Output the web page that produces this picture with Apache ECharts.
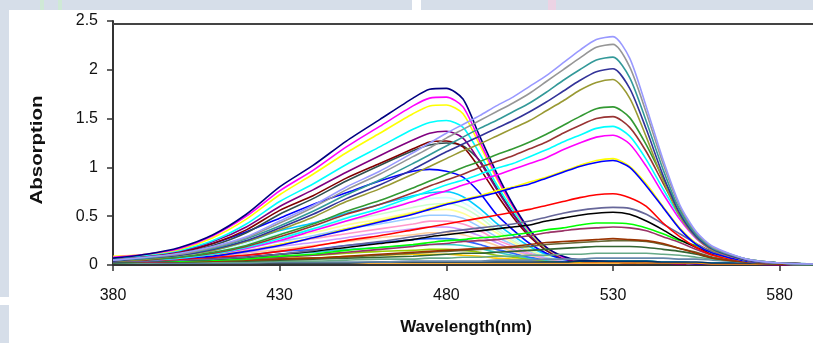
<!DOCTYPE html>
<html><head><meta charset="utf-8">
<script src="https://cdn.jsdelivr.net/npm/echarts@6/dist/echarts.min.js"></script>
<style>html,body{margin:0;padding:0;background:#fff;}#c{width:813px;height:343px;}</style>
</head><body><div id="c"></div>
<script>
// wavelength grid (nm)
const wavelengths = [380,390,400,410,420,430,440,450,460,470,475,480,485,490,495,500,505,510,515,520,525,530,535,540,545,550,555,560,570,580,590];
const xTicks = [380,430,480,530,580];
const yTicks = [0,0.5,1,1.5,2,2.5];

// 476 nm band
const a476Navy    = [.07,.11,.18,.31,.52,.80,1.02,1.27,1.49,1.71,1.80,1.81,1.70,1.32,.95,.62,.36,.18,.09,.05,.04,.03,.03,.02,.02,.02,.01,.01,.01,.01,0];
const a476Magenta = [.08,.11,.17,.30,.50,.76,.97,1.21,1.42,1.63,1.71,1.72,1.62,1.27,.91,.60,.35,.18,.08,.05,.04,.03,.03,.02,.02,.02,.01,.01,.01,.01,0];
const a476Yellow  = [.09,.11,.16,.28,.47,.72,.93,1.15,1.35,1.55,1.63,1.64,1.55,1.23,.89,.59,.34,.17,.08,.05,.04,.03,.03,.02,.02,.02,.01,.01,.01,.01,0];
const a476Cyan    = [.07,.10,.15,.25,.42,.65,.83,1.03,1.21,1.39,1.46,1.48,1.41,1.14,.83,.56,.33,.17,.08,.05,.04,.03,.03,.02,.02,.02,.01,.01,.01,.01,0];
const a476Purple  = [.07,.10,.14,.24,.39,.60,.77,.95,1.12,1.28,1.35,1.37,1.30,1.06,.78,.52,.31,.16,.07,.04,.03,.03,.02,.02,.02,.01,.01,.01,.01,0,0];
const a476Maroon  = [.06,.09,.13,.22,.36,.56,.71,.89,1.04,1.19,1.26,1.27,1.21,.99,.73,.49,.29,.15,.07,.04,.03,.03,.02,.02,.02,.01,.01,.01,.01,0,0];
const a476Dark    = [.06,.09,.12,.20,.33,.52,.68,.86,1.02,1.17,1.23,1.25,1.22,1.07,.80,.53,.31,.15,.07,.04,.03,.03,.02,.02,.02,.01,.01,.01,.01,0,0];
const a476Blue    = [.06,.09,.13,.22,.34,.48,.62,.74,.86,.96,.98,.96,.90,.74,.52,.36,.22,.12,.06,.04,.03,.03,.02,.02,.02,.01,.01,.01,.01,0,0];
const a476Sky     = [.06,.07,.10,.15,.24,.35,.43,.53,.62,.71,.74,.75,.70,.58,.43,.30,.19,.11,.07,.05,.04,.04,.04,.04,.03,.03,.02,.02,.02,.02,.01];
const a476Turq    = [.06,.07,.10,.14,.22,.32,.40,.49,.57,.65,.68,.69,.64,.53,.39,.27,.18,.10,.06,.05,.04,.04,.04,.04,.03,.03,.02,.02,.02,.02,.01];
const a476LGreen  = [.05,.07,.09,.13,.20,.29,.37,.45,.52,.59,.62,.63,.59,.49,.36,.25,.16,.10,.06,.05,.04,.04,.04,.04,.03,.03,.02,.02,.02,.02,.01];
const a476LYellow = [.05,.06,.08,.12,.19,.27,.33,.41,.47,.54,.56,.57,.53,.44,.33,.23,.15,.09,.06,.05,.04,.04,.04,.04,.03,.03,.02,.02,.02,.02,.01];
const a476PBlue   = [.05,.06,.08,.11,.17,.24,.30,.37,.42,.48,.51,.51,.48,.39,.29,.21,.14,.08,.05,.04,.04,.04,.04,.03,.03,.03,.02,.02,.02,.02,.01];
const a476Rose    = [.05,.06,.07,.10,.15,.21,.27,.32,.37,.42,.45,.45,.42,.35,.26,.19,.12,.08,.05,.04,.04,.04,.04,.03,.03,.03,.02,.02,.02,.02,.01];
const a476Lav     = [.04,.05,.07,.09,.13,.19,.23,.28,.33,.37,.39,.39,.36,.30,.23,.16,.11,.07,.05,.04,.04,.04,.04,.03,.03,.03,.02,.02,.02,.02,.01];
const a476Tan     = [.04,.05,.06,.08,.12,.16,.20,.24,.28,.31,.33,.33,.31,.26,.20,.14,.10,.06,.05,.04,.04,.03,.03,.03,.03,.02,.02,.02,.02,.01,.01];
const a476LBlue   = [.04,.04,.05,.07,.10,.14,.16,.20,.23,.26,.27,.27,.25,.21,.16,.12,.08,.06,.04,.04,.03,.03,.03,.03,.03,.02,.02,.02,.02,.01,.01];
const a476Aqua    = [.04,.04,.05,.06,.08,.11,.13,.16,.18,.20,.21,.21,.20,.17,.13,.10,.07,.05,.04,.04,.03,.03,.03,.03,.03,.02,.02,.02,.02,.01,.01];
const a476Lime    = [.03,.04,.04,.05,.07,.09,.10,.12,.14,.15,.16,.16,.15,.13,.10,.08,.06,.04,.04,.03,.03,.03,.03,.03,.02,.02,.02,.02,.01,.01,.01];
const a476Gold    = [.03,.03,.04,.04,.05,.07,.07,.09,.10,.11,.11,.11,.10,.09,.07,.06,.05,.04,.03,.03,.03,.03,.03,.03,.02,.02,.02,.02,.01,.01,.01];

// near-zero traces
const baseSteel  = [.02,.02,.02,.02,.02,.03,.03,.03,.03,.04,.04,.04,.04,.04,.05,.05,.05,.06,.06,.06,.07,.07,.07,.07,.07,.06,.06,.05,.03,.01,0];
const baseOrange = [.03,.03,.03,.02,.02,.02,.02,.02,.02,.02,.02,.02,.02,.02,.02,.02,.02,.02,.02,.02,.02,.02,.02,.02,.02,.02,.02,.01,.01,.01,0];
const baseNavy   = [.02,.02,.02,.02,.02,.02,.02,.02,.03,.03,.03,.03,.03,.03,.03,.03,.03,.03,.03,.04,.04,.04,.04,.04,.03,.03,.03,.02,.02,.01,0];

// 528 nm band
const b528Sea     = [.02,.02,.03,.03,.03,.04,.04,.05,.06,.06,.07,.07,.08,.08,.09,.09,.10,.10,.11,.11,.12,.12,.12,.12,.11,.10,.08,.06,.03,.01,0];
const b528DGreen  = [.02,.03,.03,.04,.04,.05,.06,.07,.08,.09,.10,.11,.12,.12,.13,.14,.15,.16,.17,.18,.19,.19,.19,.18,.16,.14,.11,.07,.03,.01,0];
const b528DOlive  = [.03,.03,.03,.04,.05,.06,.07,.08,.10,.12,.13,.14,.15,.16,.17,.18,.19,.21,.22,.23,.24,.25,.25,.24,.21,.17,.13,.08,.03,.01,.01];
const b528Brown2  = [.03,.03,.04,.04,.05,.06,.07,.09,.11,.13,.14,.15,.16,.17,.18,.19,.21,.23,.24,.25,.26,.27,.26,.25,.22,.17,.12,.07,.03,.01,.01];
const b528Plum    = [.03,.03,.04,.05,.06,.08,.10,.13,.16,.19,.21,.22,.24,.25,.26,.28,.30,.33,.35,.37,.38,.39,.38,.35,.29,.23,.16,.10,.04,.02,.01];
const b528Lime    = [.03,.04,.04,.05,.06,.09,.11,.15,.18,.21,.23,.25,.26,.28,.29,.31,.33,.36,.38,.41,.43,.43,.42,.38,.32,.25,.20,.14,.05,.02,.01];
const b528Black   = [.03,.04,.05,.06,.08,.11,.14,.18,.22,.26,.29,.31,.33,.35,.37,.39,.41,.45,.48,.51,.53,.54,.52,.45,.36,.26,.18,.11,.04,.02,.01];
const b528Slate   = [.03,.04,.05,.06,.08,.11,.15,.20,.24,.29,.31,.34,.36,.38,.40,.42,.45,.49,.53,.56,.58,.59,.58,.52,.42,.32,.22,.13,.04,.02,.01];
const b528Red     = [.04,.05,.06,.08,.10,.14,.19,.25,.30,.36,.39,.42,.45,.48,.51,.54,.57,.61,.65,.69,.72,.73,.69,.60,.43,.29,.18,.10,.04,.02,.01];
const b528Blue    = [.04,.05,.07,.09,.14,.20,.28,.36,.44,.52,.57,.62,.66,.70,.74,.79,.83,.89,.95,1.01,1.05,1.07,1.00,.81,.59,.37,.21,.12,.04,.02,.01];
const b528Yellow  = [.05,.06,.07,.10,.14,.21,.28,.37,.45,.53,.58,.63,.67,.71,.76,.80,.85,.90,.96,1.02,1.07,1.09,1.01,.83,.60,.38,.22,.12,.04,.02,.01];
const b528Magenta = [.04,.05,.07,.11,.17,.25,.35,.45,.55,.65,.71,.76,.82,.87,.92,.98,1.04,1.10,1.18,1.25,1.31,1.33,1.24,1.01,.73,.47,.27,.15,.05,.02,.01];
const b528Cyan    = [.04,.05,.07,.11,.18,.27,.37,.48,.58,.70,.76,.82,.87,.93,.99,1.04,1.11,1.18,1.26,1.33,1.40,1.42,1.32,1.08,.78,.50,.28,.16,.05,.02,.01];
const b528Brown   = [.04,.05,.08,.12,.19,.29,.40,.52,.62,.74,.81,.87,.93,1.00,1.06,1.12,1.19,1.26,1.35,1.43,1.50,1.52,1.41,1.16,.84,.53,.30,.17,.05,.02,.01];
const b528Green   = [.04,.06,.08,.13,.20,.31,.42,.55,.66,.79,.86,.93,1.00,1.06,1.13,1.19,1.26,1.34,1.43,1.52,1.60,1.62,1.51,1.23,.89,.57,.32,.18,.06,.02,.01];
const b528Olive   = [.04,.06,.10,.15,.24,.36,.49,.65,.78,.93,1.01,1.09,1.17,1.24,1.32,1.40,1.48,1.58,1.68,1.79,1.87,1.90,1.71,1.31,.87,.50,.28,.15,.05,.02,.01];
const b528Indigo  = [.04,.07,.10,.16,.25,.38,.52,.68,.82,.98,1.07,1.16,1.24,1.32,1.40,1.48,1.57,1.67,1.78,1.89,1.98,2.01,1.81,1.39,.92,.53,.29,.16,.05,.02,.01];
const b528Teal    = [.05,.07,.11,.17,.27,.40,.55,.72,.87,1.04,1.13,1.22,1.31,1.40,1.48,1.57,1.66,1.77,1.89,2.00,2.10,2.13,1.92,1.47,.98,.56,.31,.17,.06,.02,.01];
const b528Gray    = [.05,.08,.11,.18,.28,.43,.59,.77,.93,1.11,1.20,1.30,1.39,1.48,1.57,1.66,1.76,1.88,2.00,2.12,2.23,2.26,2.03,1.56,1.04,.60,.33,.18,.06,.02,.01];
const b528Lavender= [.05,.08,.12,.19,.29,.45,.61,.80,.96,1.15,1.25,1.35,1.44,1.53,1.63,1.72,1.83,1.94,2.07,2.20,2.31,2.34,2.12,1.62,1.08,.62,.34,.19,.06,.02,.01];

const seriesList = [
  [a476Gold,'#FFCC00'],[a476Lime,'#99CC00'],[a476Aqua,'#33CCCC'],[a476LBlue,'#3366FF'],
  [a476Tan,'#FFCC99'],[a476Lav,'#CC99FF'],[a476Rose,'#FF99CC'],[a476PBlue,'#99CCFF'],
  [a476LYellow,'#FFFF99'],[a476LGreen,'#CCFFCC'],[a476Turq,'#CCFFFF'],[a476Sky,'#00CCFF'],
  [a476Blue,'#0000FF'],[a476Dark,'#2F4F4F'],[a476Maroon,'#800000'],[a476Purple,'#800080'],
  [a476Cyan,'#00FFFF'],[a476Yellow,'#FFFF00'],[a476Magenta,'#FF00FF'],[a476Navy,'#000080'],
  [baseOrange,'#FF9900'],[baseNavy,'#003366'],[baseSteel,'#6688AA'],
  [b528Sea,'#66AA88'],[b528DGreen,'#336633'],[b528DOlive,'#666633'],[b528Brown2,'#993300'],
  [b528Plum,'#993366'],[b528Lime,'#00FF00'],[b528Black,'#000000'],[b528Slate,'#666699'],
  [b528Red,'#FF0000'],[b528Yellow,'#FFFF00'],[b528Blue,'#0000FF'],[b528Magenta,'#FF00FF'],
  [b528Cyan,'#00FFFF'],[b528Brown,'#993333'],[b528Green,'#339933'],[b528Olive,'#999933'],
  [b528Indigo,'#333399'],[b528Teal,'#339999'],[b528Gray,'#969696'],[b528Lavender,'#9999FF']
];

const chart = echarts.init(document.getElementById('c'));
const series = seriesList.map((s, i) => ({
  type: 'line', name: 's' + i, showSymbol: false, symbol: 'none', smooth: 0.25,
  lineStyle: { color: s[1], width: 1.6 }, itemStyle: { color: s[1] },
  data: wavelengths.map((w, k) => [w, s[0][k]]), animation: false, z: 2
}));

const bg = '#d6dee9';
chart.setOption({
  animation: false,
  backgroundColor: '#ffffff',
  grid: { left: 113, right: 0, top: 21, bottom: 78, containLabel: false, outerBoundsMode: 'none' },
  xAxis: {
    type: 'value', min: 380, max: 590, interval: 50,
    axisLine: { show: true, onZero: false, lineStyle: { color: '#333', width: 2 } },
    axisTick: { show: true, length: 6, lineStyle: { color: '#333', width: 1.5 } },
    axisLabel: { color: '#111', fontSize: 16, fontFamily: 'Liberation Sans, Arial', margin: 23,
      showMaxLabel: false, formatter: v => xTicks.includes(v) ? String(v) : '' },
    splitLine: { show: false }
  },
  yAxis: {
    type: 'value', min: 0, max: 2.5, interval: 0.5,
    axisLine: { show: true, lineStyle: { color: '#333', width: 2 } },
    axisTick: { show: true, length: 6, lineStyle: { color: '#333', width: 1.5 } },
    axisLabel: { color: '#111', fontSize: 16, fontFamily: 'Liberation Sans, Arial', margin: 15,
      formatter: v => yTicks.includes(v) ? String(v) : '' },
    splitLine: { show: false }
  },
  series: series,
  graphic: [
    { type: 'rect', shape: { x: 0, y: 0, width: 813, height: 10 }, style: { fill: bg }, z: 0, silent: true },
    { type: 'rect', shape: { x: 412, y: 0, width: 9, height: 10 }, style: { fill: '#ffffff' }, z: 1, silent: true },
    { type: 'rect', shape: { x: 548, y: 0, width: 8, height: 10 }, style: { fill: '#ecd3e4' }, z: 1, silent: true },
    { type: 'rect', shape: { x: 40, y: 0, width: 4, height: 10 }, style: { fill: '#cfe9d6' }, z: 1, silent: true },
    { type: 'rect', shape: { x: 58, y: 0, width: 4, height: 10 }, style: { fill: '#cfe9d6' }, z: 1, silent: true },
    { type: 'rect', shape: { x: 0, y: 0, width: 9, height: 297 }, style: { fill: bg }, z: 0, silent: true },
    { type: 'rect', shape: { x: 0, y: 305, width: 9, height: 38 }, style: { fill: bg }, z: 0, silent: true },
    { type: 'line', shape: { x1: 113, y1: 24, x2: 813, y2: 24 }, style: { stroke: '#444', lineWidth: 2 }, z: 100, silent: true },
    { type: 'text', x: 466, y: 327, style: { text: 'Wavelength(nm)', font: 'bold 17px "Liberation Sans", Arial', fill: '#111', textAlign: 'center', textVerticalAlign: 'middle' }, z: 100 },
    { type: 'text', x: 37, y: 150, rotation: Math.PI / 2, scaleX: 1.2, style: { text: 'Absorption', font: 'bold 17px "Liberation Sans", Arial', fill: '#111', textAlign: 'center', textVerticalAlign: 'middle' }, z: 100 }
  ]
});
</script>
</body></html>
